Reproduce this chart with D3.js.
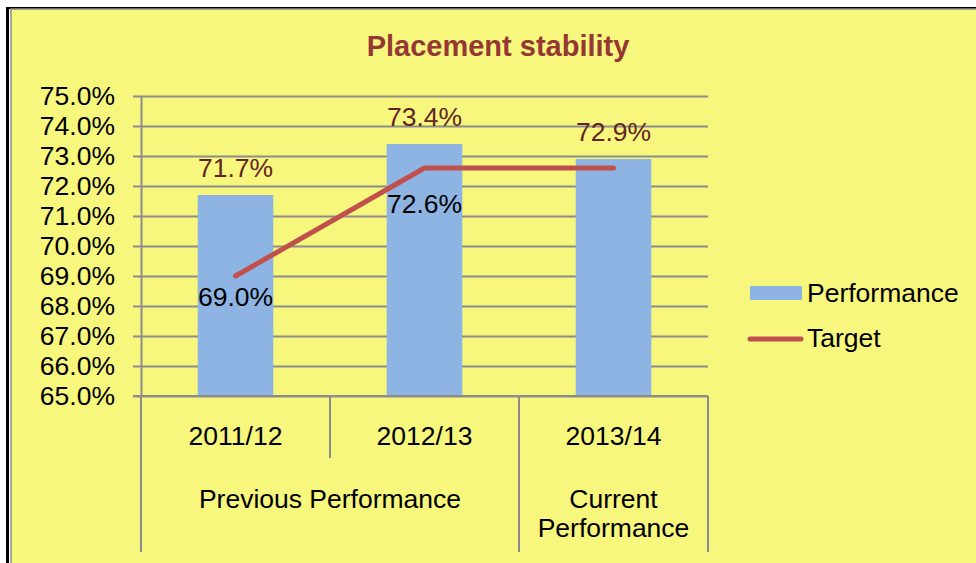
<!DOCTYPE html>
<html>
<head>
<meta charset="utf-8">
<script src="https://cdn.jsdelivr.net/npm/d3@7"></script>
<style>
  body { margin: 0; background: #fff; }
  svg { display: block; font-family: "Liberation Sans", Arial, sans-serif; }
</style>
</head>
<body>
<svg width="976" height="563"></svg>
<script>
// chart data
const categories = ["2011/12", "2012/13", "2013/14"];
const performance = [71.7, 73.4, 72.9];
const target = [69.0, 72.6, 72.6];
const targetLabelled = [true, true, false];
const yTicks = [65, 66, 67, 68, 69, 70, 71, 72, 73, 74, 75];
const groupLabels = [["Previous Performance"], ["Current", "Performance"]];
const groupStart = [0, 2];
const groupEnd = [2, 3];

const blue = "#8eb4e3", red = "#c0504d", grid = "#8c8c8c";
const fs = 26.5;
const svg = d3.select("svg");

// frame
svg.append("rect").attr("x", 6).attr("y", 7).attr("width", 980).attr("height", 570)
  .attr("fill", "#000");
svg.append("rect").attr("x", 9).attr("y", 9).attr("width", 980).attr("height", 570)
  .attr("fill", "#fff");
svg.append("rect").attr("x", 11).attr("y", 9).attr("width", 980).attr("height", 570)
  .attr("fill", "#f7f77e").attr("stroke", grid).attr("stroke-width", 1.5);

// title
svg.append("text").attr("x", 498).attr("y", 56).attr("text-anchor", "middle")
  .attr("font-size", 29).attr("font-weight", "bold").attr("fill", "#953735")
  .text("Placement stability");

let xScale = d3.scaleBand().domain(categories).range([141, 708]).padding(0);
let yScale = d3.scaleLinear().domain([65, 75]).range([396, 96]);

// gridlines
let gridAxis = d3.axisLeft(yScale).tickValues(yTicks).tickSize(-567).tickFormat("");
let gridG = svg.append("g").attr("transform", "translate(141,0)").call(gridAxis);
gridG.select(".domain").remove();
gridG.selectAll("line").attr("stroke", grid).attr("stroke-width", 2);

// bars
let barW = xScale.bandwidth() * 0.4;
svg.append("g").selectAll("rect")
  .data(performance)
  .join("rect")
  .attr("x", (d, i) => xScale(categories[i]) + (xScale.bandwidth() - barW) / 2)
  .attr("y", d => yScale(d))
  .attr("width", barW)
  .attr("height", d => yScale(65) - yScale(d))
  .attr("fill", blue);

// y axis
let yAxis = d3.axisLeft(yScale).tickValues(yTicks).tickSizeInner(8).tickSizeOuter(0)
  .tickPadding(18).tickFormat(d => d3.format(".1f")(d) + "%");
let yG = svg.append("g").attr("transform", "translate(141,0)").call(yAxis);
yG.select(".domain").attr("stroke", grid).attr("stroke-width", 2);
yG.selectAll("line").attr("stroke", grid).attr("stroke-width", 2);
yG.selectAll("text").attr("font-size", fs).attr("fill", "#000").attr("dy", "0.33em")
  .attr("font-family", "Liberation Sans, Arial, sans-serif");

// x axis line and category separators
let xG = svg.append("g").attr("stroke", grid).attr("stroke-width", 2);
xG.append("line").attr("x1", 133).attr("x2", 708)
  .attr("y1", yScale(65)).attr("y2", yScale(65));
let bounds = categories.map(c => xScale(c)).concat([xScale.range()[1]]);
bounds.forEach((b, i) => {
  let longTick = i === 0 || i === bounds.length - 1 || groupStart.includes(i);
  xG.append("line").attr("x1", b).attr("x2", b)
    .attr("y1", yScale(65)).attr("y2", longTick ? 552 : 458);
});

svg.append("g").selectAll("text")
  .data(categories)
  .join("text")
  .attr("x", d => xScale(d) + xScale.bandwidth() / 2)
  .attr("y", 445)
  .attr("text-anchor", "middle")
  .attr("font-size", fs)
  .text(d => d);

groupLabels.forEach((lines, gi) => {
  let cx = (bounds[groupStart[gi]] + bounds[groupEnd[gi]]) / 2;
  lines.forEach((l, li) => {
    svg.append("text").attr("x", cx).attr("y", 508 + li * 29)
      .attr("text-anchor", "middle").attr("font-size", fs).text(l);
  });
});

// target line
let line = d3.line()
  .x((d, i) => xScale(categories[i]) + xScale.bandwidth() / 2)
  .y(d => yScale(d));
svg.append("path").attr("d", line(target))
  .attr("fill", "none").attr("stroke", red).attr("stroke-width", 5)
  .attr("stroke-linecap", "round").attr("stroke-linejoin", "round");

// performance labels
svg.append("g").selectAll("text")
  .data(performance)
  .join("text")
  .attr("x", (d, i) => xScale(categories[i]) + xScale.bandwidth() / 2)
  .attr("y", d => yScale(d) - 18)
  .attr("text-anchor", "middle")
  .attr("font-size", fs)
  .attr("fill", "#632523")
  .text(d => d3.format(".1f")(d) + "%");

// target labels
const targetDy = [30, 45];
svg.append("g").selectAll("text")
  .data(target.filter((d, i) => targetLabelled[i]))
  .join("text")
  .attr("x", (d, i) => xScale(categories[i]) + xScale.bandwidth() / 2)
  .attr("y", (d, i) => yScale(d) + targetDy[i])
  .attr("text-anchor", "middle")
  .attr("font-size", fs)
  .attr("fill", "#000")
  .text(d => d3.format(".1f")(d) + "%");

// legend
let legend = svg.append("g");
legend.append("rect").attr("x", 750).attr("y", 286).attr("width", 52).attr("height", 14)
  .attr("fill", blue);
legend.append("text").attr("x", 807).attr("y", 302).attr("font-size", fs).text("Performance");
legend.append("line").attr("x1", 750).attr("x2", 801).attr("y1", 339).attr("y2", 339)
  .attr("stroke", red).attr("stroke-width", 5).attr("stroke-linecap", "round");
legend.append("text").attr("x", 807).attr("y", 347).attr("font-size", fs).text("Target");
</script>
</body>
</html>
